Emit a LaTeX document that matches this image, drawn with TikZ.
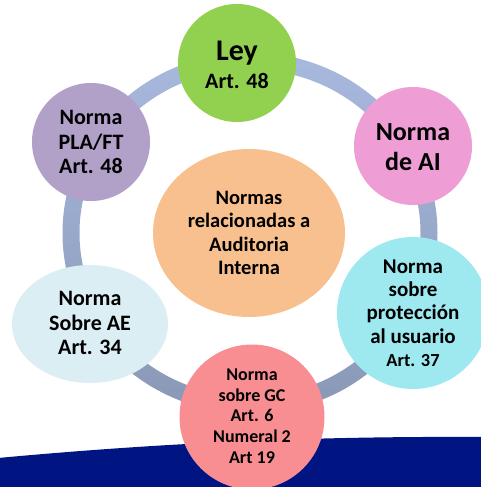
\documentclass[tikz,border=0pt]{standalone}
\usepackage{fontspec}
\setmainfont{Carlito}
\definecolor{navyband}{HTML}{001482}
\definecolor{ringtop}{HTML}{A8B9DE}
\definecolor{ringbot}{HTML}{8998B6}
\definecolor{cley}{HTML}{92D050}
\definecolor{cai}{HTML}{EE9DD5}
\definecolor{cpla}{HTML}{B1A0C8}
\definecolor{ccen}{HTML}{F9C08F}
\definecolor{cpro}{HTML}{9EE9F0}
\definecolor{cae}{HTML}{DBEEF4}
\definecolor{cgc}{HTML}{F88E92}
\tikzset{
  bubble/.style={fill=#1, draw=none},
  label/.style={align=center, text=black, inner sep=0pt, font=\bfseries}
}
\newcommand{\fs}[2]{\fontsize{#1}{#2}\selectfont}
\begin{document}
\begin{tikzpicture}[x=1pt,y=-1pt]
\useasboundingbox (0,0) rectangle (480,487);
\fill[white] (0,0) rectangle (480,487);
% bottom band
\fill[navyband] (-2,458) .. controls (150,444) and (300,436) .. (482,437) -- (482,489) -- (-2,489) -- cycle;
% ring
\path[top color=ringtop, bottom color=ringbot, even odd rule]
  (250,233) ellipse [x radius=187.5, y radius=180.5]
  (250,233) ellipse [x radius=170.5, y radius=163.5];
% bubbles
\fill[bubble=cley] (237,63) circle [radius=59];
\fill[bubble=cai] (413,146) circle [radius=59];
\fill[bubble=cpla] (91,142) circle [radius=59];
\fill[bubble=cpro] (413,313) circle [radius=76];
\fill[bubble=cae] (90,324) ellipse [x radius=78, y radius=59];
\fill[bubble=cgc] (252,417) circle [radius=72.5];
\fill[bubble=ccen] (249,233) ellipse [x radius=96, y radius=84];
% labels
\node[label] (ley) at (237,65) {{\fs{30}{30}Ley}\\[7pt]{\fs{22}{26}Art. 48}};
\node[label, font=\bfseries\fs{26}{30}] (ai) at (413,147) {Norma\\de AI};
\node[label, font=\bfseries\fs{22}{24.5}] (pla) at (91,142) {Norma\\PLA/FT\\Art. 48};
\node[label, font=\bfseries\fs{20.5}{23.3}] (cen) at (249,233) {Normas\\relacionadas a\\Auditoria\\Interna};
\node[label, font=\bfseries\fs{21}{23.3}] (pro) at (413,313) {Norma\\sobre\\protección\\al usuario\\{\fs{18.4}{23}Art. 37}};
\node[label, font=\bfseries\fs{22}{24.5}] (ae) at (90,323) {Norma\\Sobre AE\\Art. 34};
\node[label, font=\bfseries\fs{18}{20.7}] (gc) at (252,416) {Norma\\sobre GC\\Art. 6\\Numeral 2\\Art 19};
\end{tikzpicture}
\end{document}
